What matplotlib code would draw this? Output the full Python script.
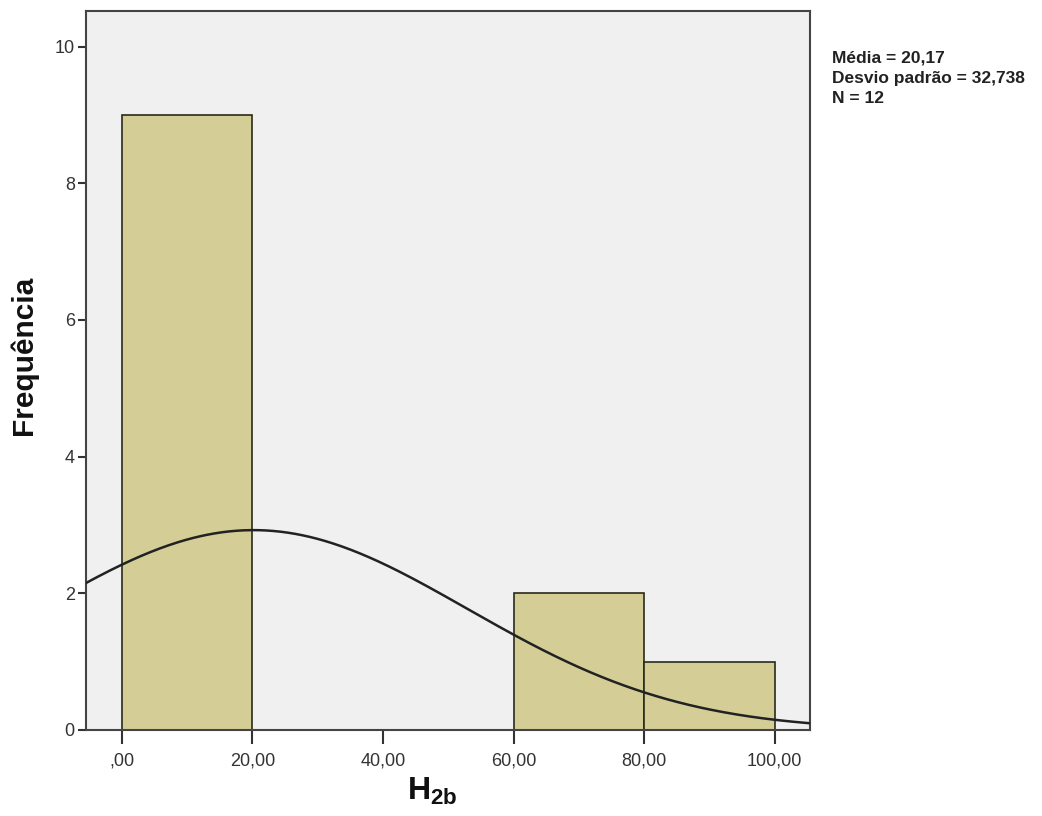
import numpy as np
import matplotlib.pyplot as plt

plt.rcParams['font.family'] = ['Liberation Sans', 'DejaVu Sans']
plt.rcParams['mathtext.fontset'] = 'custom'
plt.rcParams['mathtext.bf'] = 'Liberation Sans:bold'
plt.rcParams['mathtext.rm'] = 'Liberation Sans'

# histogram data
bin_edges = [0, 20, 40, 60, 80, 100]
counts = [9, 0, 0, 2, 1]
media = 20.17
desvio = 32.738
n_obs = 12

x_ticks = [0, 20, 40, 60, 80, 100]
x_labels = [',00', '20,00', '40,00', '60,00', '80,00', '100,00']
y_ticks = [0, 2, 4, 6, 8, 10]

fig = plt.figure(figsize=(10.42, 8.16), dpi=100)
ax = fig.add_axes([0.0825, 0.1054, 0.6948, 0.8811])
ax.set_facecolor('#f0f0f0')

lefts = bin_edges[:-1]
widths = np.diff(bin_edges)
for l, w, c in zip(lefts, widths, counts):
    if c > 0:
        ax.bar(l, c, width=w, align='edge', color='#d4ce96',
               edgecolor='#2a2a1a', linewidth=1.2, zorder=2)

# normal curve scaled to counts (N * bin width)
xs = np.linspace(-6, 106, 400)
bw = bin_edges[1] - bin_edges[0]
ys = n_obs * bw / (desvio * np.sqrt(2 * np.pi)) * np.exp(-0.5 * ((xs - media) / desvio) ** 2)
ax.plot(xs, ys, color='#222222', linewidth=1.8, zorder=3)

ax.set_xlim(-5.5, 105.4)
ax.set_ylim(0, 10.52)
ax.set_xticks(x_ticks)
ax.set_xticklabels(x_labels, fontsize=13, color='#333333')
ax.set_yticks(y_ticks)
ax.set_yticklabels([str(t) for t in y_ticks], fontsize=13, color='#333333')
ax.tick_params(axis='x', direction='out', length=10, width=1.5, color='#333333', pad=6)
ax.tick_params(axis='y', direction='out', length=6, width=1.5, color='#333333', pad=2)
for s in ax.spines.values():
    s.set_color('#444444')
    s.set_linewidth(1.5)

fig.text(0.023, 0.564, 'Frequência', fontsize=21.5, fontweight='bold',
         rotation=90, ha='center', va='center', color='#111111')
fig.text(0.415, 0.03, r'$\mathbf{H_{2b}}$', fontsize=23,
         ha='center', va='center', color='#111111')

fig.text(0.798, 0.938, 'Média = 20,17\nDesvio padrão = 32,738\nN = 12',
         fontsize=12.5, fontweight='bold', color='#222222', va='top', ha='left',
         linespacing=1.45)

fig.savefig('out.png', dpi=100, facecolor='white')
